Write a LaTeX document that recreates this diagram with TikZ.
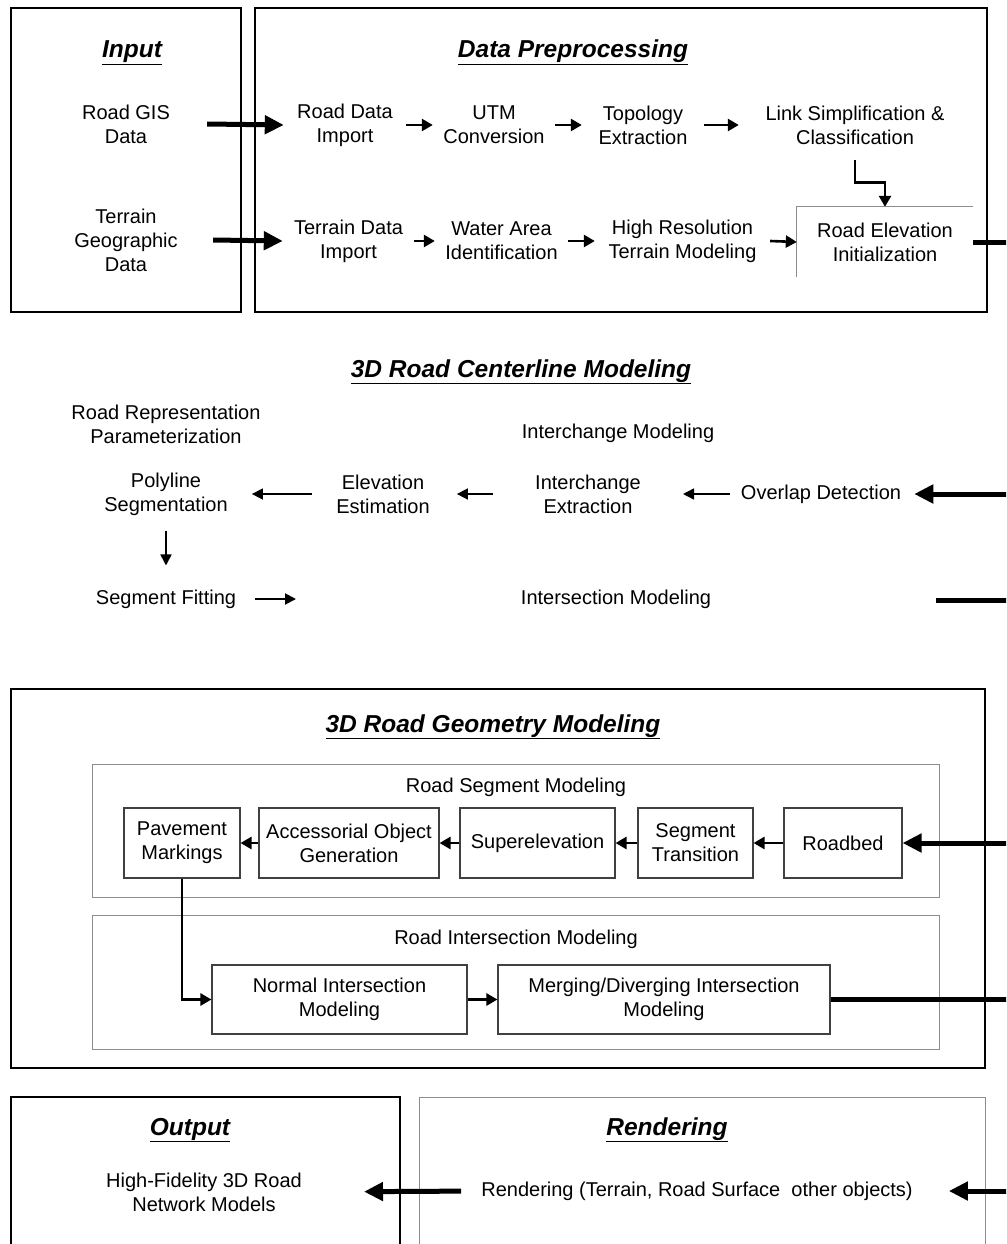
\documentclass[tikz,border=0pt]{standalone}
\usepackage{fontspec}
\setmainfont{Liberation Sans}
\usetikzlibrary{arrows.meta}

\newcommand{\boxfont}{\fontsize{20}{24}\selectfont}
\newcommand{\headfont}{\fontsize{24.5}{28}\selectfont\bfseries\itshape}

\begin{document}
\begin{tikzpicture}[x=1pt, y=-1pt,
    every node/.style={font=\boxfont, align=center, inner sep=0pt},
    head/.style={font=\headfont, anchor=base},
    secbox/.style={draw, line width=1.8pt},
    subbox/.style={draw=black!45, line width=0.9pt},
    prebox/.style={minimum height=70pt},
    geobox/.style={draw=black!75, line width=1.1pt, minimum height=70pt},
    bigarrow/.style={line width=5pt, -{Triangle[length=19pt,width=18pt]}},
    bigline/.style={line width=5pt},
    midarrow/.style={line width=2.6pt, -{Triangle[length=11pt,width=12pt]}},
    thinarrow/.style={line width=1.6pt, -{Triangle[length=11pt,width=11pt]}}]

\useasboundingbox (0,0) rectangle (1006,1244);
\clip (0,0) rectangle (1006,1244);

% input and preprocessing
\draw[secbox] (11,8) rectangle (241,312);
\draw[secbox] (255,8) rectangle (987,312);
\node[head] (inhead) at (132,58) {\underline{Input}};
\node[head] (prehead) at (573,58) {\underline{Data Preprocessing}};

\node[prebox, minimum width=162pt] (gis) at (126,124) {Road GIS\\Data};
\node[minimum width=174pt] (terrain) at (126,240) {Terrain\\Geographic\\Data};

\node[prebox, minimum width=122pt] (rdimp) at (345,125) {Road Data\\Import};
\node[prebox, minimum width=122pt] (utm) at (494,125) {UTM\\Conversion};
\node[prebox, minimum width=122pt] (topo) at (643,125) {Topology\\Extraction};
\node[prebox, minimum width=232pt] (link) at (855,125) {Link Simplification \&\\Classification};
\node[prebox, minimum width=131pt] (tdimp) at (348.5,241) {Terrain Data\\Import};
\node[prebox, minimum width=133pt] (water) at (501.5,241) {Water Area\\Identification};
\node[prebox, minimum width=175pt] (hires) at (682.5,241) {High Resolution\\Terrain Modeling};
\node[prebox, minimum width=176pt] (relev) at (885,242) {Road Elevation\\Initialization};
\draw[subbox] (relev.south west) |- (relev.north east);

\draw[bigarrow] (gis.east) -- (rdimp.west);
\draw[bigarrow] (terrain.east) -- (tdimp.west);
\draw[midarrow] (rdimp) -- (utm);
\draw[midarrow] (utm) -- (topo);
\draw[midarrow] (topo.east) -- (link.west);
\draw[midarrow] (link.south) -- ++(0,22) -| (relev.north);
\draw[midarrow] (tdimp.east) -- (water.west);
\draw[midarrow] (water.east) -- (hires.west);
\draw[midarrow] (hires.east) -- (relev.west);
\coordinate (edgeA) at (1012,242);
\draw[bigline] (relev.east) -- (edgeA);

% centerline modeling
\node[head] (clhead) at (521,377) {\underline{3D Road Centerline Modeling}};
\node (repr) at (166,424) {Road Representation\\Parameterization};
\node (ichmod) at (618,433) {Interchange Modeling};
\node (poly) at (166,494) {Polyline\\Segmentation};
\node (elev) at (383,494) {Elevation\\Estimation};
\node (ichx) at (588,494) {Interchange\\Extraction};
\node (overlap) at (821,494) {Overlap Detection};
\node (fit) at (166,599) {Segment Fitting};
\node (isecmod) at (616,599) {Intersection Modeling};

\coordinate (edgeB) at (1012,494);
\coordinate (edgeC) at (1012,600);
\coordinate (isecend) at (936,600);
\coordinate (fitend) at (296,599);
\draw[bigarrow, shorten >=13pt] (edgeB) -- (overlap.east);
\draw[thinarrow, shorten <=11pt, shorten >=42pt] (overlap.west) -- (ichx.east);
\draw[thinarrow, shorten <=42pt, shorten >=27pt] (ichx.west) -- (elev.east);
\draw[thinarrow, shorten <=24pt, shorten >=24pt] (elev.west) -- (poly.east);
\draw[thinarrow, shorten <=15pt, shorten >=24pt] (poly.south) -- (fit.north);
\draw[thinarrow, line width=2pt, shorten <=19pt] (fit.east) -- (fitend);
\draw[bigline] (edgeC) -- (isecend);

% geometry modeling
\draw[secbox] (11,689) rectangle (985,1068);
\node[head] (geohead) at (493,732) {\underline{3D Road Geometry Modeling}};
\draw[subbox] (92,764) rectangle (939,897);
\draw[subbox] (92,915) rectangle (939,1049);
\node[anchor=base] (segmod) at (516,792) {Road Segment Modeling};
\node[anchor=base] (isecl) at (516,944) {Road Intersection Modeling};

\node[geobox, minimum width=116pt] (pave) at (182,843) {Pavement\\Markings};
\node[geobox, minimum width=180pt] (acc) at (349,843) {Accessorial Object\\Generation};
\node[geobox, minimum width=155pt] (super) at (537.5,843) {Superelevation};
\node[geobox, minimum width=115pt] (trans) at (695.5,843) {Segment\\Transition};
\node[geobox, minimum width=118pt] (roadbed) at (843,843) {Roadbed};
\node[geobox, minimum width=255pt, minimum height=69pt] (normal) at (339.5,999.5) {Normal Intersection\\Modeling};
\node[geobox, minimum width=332pt, minimum height=69pt] (merge) at (664,999.5) {Merging/Diverging Intersection\\Modeling};

\coordinate (edgeD) at (1012,843);
\coordinate (edgeE) at (1012,999.5);
\draw[bigarrow] (edgeD) -- (roadbed.east);
\draw[midarrow] (roadbed) -- (trans);
\draw[midarrow] (trans) -- (super);
\draw[midarrow] (super) -- (acc);
\draw[midarrow] (acc) -- (pave);
\draw[midarrow] (pave.south) |- (normal.west);
\draw[midarrow] (normal) -- (merge);
\draw[bigline] (merge.east) -- (edgeE);

% output and rendering
\draw[secbox] (11,1097) rectangle (400,1270);
\draw[subbox] (419,1097) rectangle (985,1270);
\node[head] (outhead) at (190,1135) {\underline{Output}};
\node[head] (rendhead) at (667,1135) {\underline{Rendering}};
\node (netmod) at (204,1192) {High-Fidelity 3D Road\\Network Models};
\node (render) at (697,1191) {Rendering (Terrain, Road Surface\ \ other objects)};

\coordinate (edgeF) at (1012,1191);
\draw[bigarrow, shorten >=36pt] (edgeF) -- (render.east);
\draw[bigarrow, shorten <=20pt, shorten >=62pt] (render.west) -- (netmod.east);

\end{tikzpicture}
\end{document}
